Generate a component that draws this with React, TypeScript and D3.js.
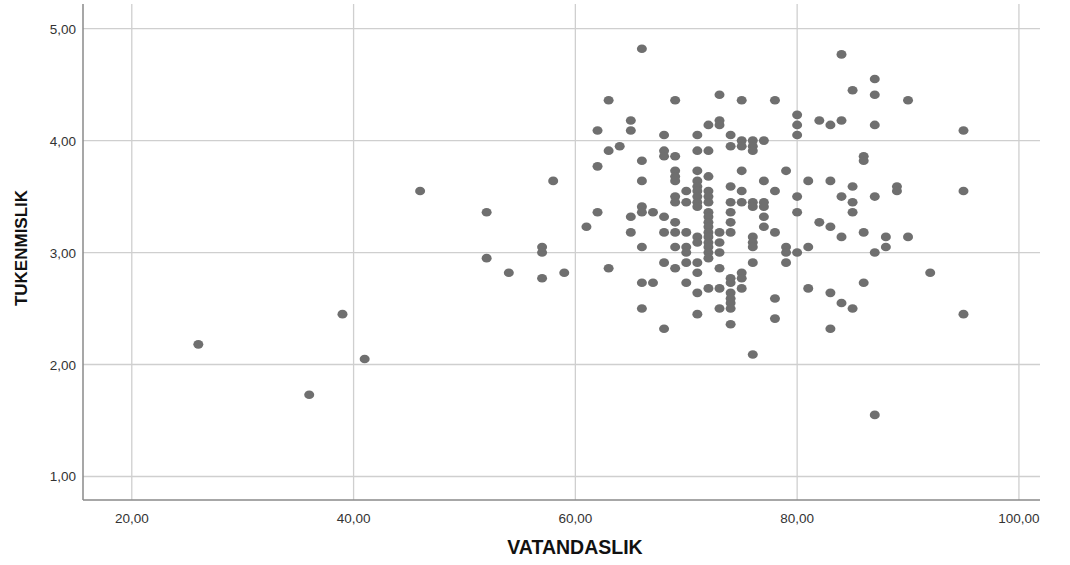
import React from "react";
import * as d3 from "d3";

// VATANDASLIK scores (x), one array per column of points
const vatandaslik = [
  26, 36, 39, 41, 46, 52, 52, 54, 57, 57, 57, 58, 59, 61,
  62, 62, 62, 63, 63, 63, 64, 65, 65, 65, 65,
  66, 66, 66, 66, 66, 66, 66, 66, 67, 67,
  68, 68, 68, 68, 68, 68, 68,
  69, 69, 69, 69, 69, 69, 69, 69, 69, 69, 69,
  70, 70, 70, 70, 70, 70, 70,
  71, 71, 71, 71, 71, 71, 71, 71, 71, 71, 71, 71, 71, 71, 71,
  72, 72, 72, 72, 72, 72, 72, 72, 72, 72, 72, 72, 72, 72, 72, 72, 72,
  73, 73, 73, 73, 73, 73, 73, 73, 73,
  74, 74, 74, 74, 74, 74, 74, 74, 74, 74, 74, 74, 74, 74,
  75, 75, 75, 75, 75, 75, 75, 75, 75,
  76, 76, 76, 76, 76, 76, 76, 76, 76, 76,
  77, 77, 77, 77, 77, 77,
  78, 78, 78, 78, 78,
  79, 79, 79, 79,
  80, 80, 80, 80, 80, 80,
  81, 81, 81, 82, 82,
  83, 83, 83, 83, 83,
  84, 84, 84, 84, 84,
  85, 85, 85, 85, 85,
  86, 86, 86, 86,
  87, 87, 87, 87, 87, 87,
  88, 88, 89, 89, 90, 90, 92, 95, 95, 95,
];

// TUKENMISLIK scores (y), same order
const tukenmislik = [
  2.18, 1.73, 2.45, 2.05, 3.55, 3.36, 2.95, 2.82, 3.05, 3.0, 2.77, 3.64, 2.82, 3.23,
  4.09, 3.77, 3.36, 4.36, 3.91, 2.86, 3.95, 4.18, 4.09, 3.32, 3.18,
  4.82, 3.82, 3.64, 3.41, 3.36, 3.05, 2.73, 2.5, 3.36, 2.73,
  4.05, 3.91, 3.86, 3.32, 3.18, 2.91, 2.32,
  4.36, 3.86, 3.73, 3.68, 3.64, 3.5, 3.45, 3.27, 3.18, 3.05, 2.86,
  3.55, 3.45, 3.18, 3.05, 3.0, 2.91, 2.73,
  4.05, 3.91, 3.73, 3.64, 3.59, 3.55, 3.5, 3.45, 3.41, 3.14, 3.09, 2.91, 2.82, 2.64, 2.45,
  4.14, 3.91, 3.68, 3.55, 3.5, 3.45, 3.36, 3.32, 3.27, 3.23, 3.18, 3.14, 3.09, 3.05, 3.0, 2.95, 2.68,
  4.41, 4.18, 4.14, 3.18, 3.09, 3.0, 2.86, 2.68, 2.5,
  4.05, 3.95, 3.59, 3.45, 3.36, 3.27, 3.18, 2.77, 2.73, 2.64, 2.59, 2.55, 2.5, 2.36,
  4.36, 4.0, 3.95, 3.73, 3.55, 3.45, 2.82, 2.77, 2.68,
  4.0, 3.95, 3.91, 3.45, 3.41, 3.14, 3.09, 3.05, 2.91, 2.09,
  4.0, 3.64, 3.45, 3.41, 3.32, 3.23,
  4.36, 3.55, 3.18, 2.59, 2.41,
  3.73, 3.05, 3.0, 2.91,
  4.23, 4.14, 4.05, 3.5, 3.36, 3.0,
  3.64, 3.05, 2.68, 4.18, 3.27,
  4.14, 3.64, 3.23, 2.64, 2.32,
  4.77, 4.18, 3.5, 3.14, 2.55,
  4.45, 3.59, 3.45, 3.36, 2.5,
  3.86, 3.82, 3.18, 2.73,
  4.55, 4.41, 4.14, 3.5, 3.0, 1.55,
  3.14, 3.05, 3.59, 3.55, 4.36, 3.14, 2.82, 4.09, 3.55, 2.45,
];

const xTicks = [20, 40, 60, 80, 100];
const yTicks = [1, 2, 3, 4, 5];

const W = 1070;
const H = 565;
const fmt = (v: number) => v.toFixed(2).replace(".", ",");

const App = () => {
  const x = d3.scaleLinear().domain([15.6, 101.9]).range([83, 1040]);
  const y = d3.scaleLinear().domain([0.79, 5.22]).range([500, 4]);
  const [x0, x1] = x.range();
  const [yb, yt] = y.range();

  const points = vatandaslik.map((v, i) => ({ v, t: tukenmislik[i] }));

  return (
    <svg
      width={W}
      height={H}
      style={{ position: "absolute", left: 0, top: 0, background: "#fff" }}
      fontFamily="'Liberation Sans', Arial, sans-serif"
    >
      {/* grid */}
      {xTicks.map((t) => (
        <line key={"gx" + t} x1={x(t)} x2={x(t)} y1={yb} y2={yt} stroke="#cfcfcf" strokeWidth={1.3} />
      ))}
      {yTicks.map((t) => (
        <line key={"gy" + t} x1={x0} x2={x1} y1={y(t)} y2={y(t)} stroke="#cfcfcf" strokeWidth={1.3} />
      ))}

      {/* axis lines */}
      <line x1={x0} x2={x0} y1={yt} y2={yb} stroke="#8a8a8a" strokeWidth={1.5} />
      <line x1={x0} x2={x1} y1={yb} y2={yb} stroke="#8a8a8a" strokeWidth={1.5} />

      {/* tick labels */}
      {xTicks.map((t) => (
        <text key={"tx" + t} x={x(t)} y={523} textAnchor="middle" fontSize={13.5} fill="#333">
          {fmt(t)}
        </text>
      ))}
      {yTicks.map((t) => (
        <text key={"ty" + t} x={76} y={y(t) + 5} textAnchor="end" fontSize={13.5} fill="#333">
          {fmt(t)}
        </text>
      ))}

      {/* axis titles */}
      <text x={575} y={554} textAnchor="middle" fontSize={19.5} fontWeight="bold" fill="#111">
        VATANDASLIK
      </text>
      <text
        transform="translate(27,248) rotate(-90)"
        textAnchor="middle"
        fontSize={17}
        fontWeight="bold"
        fill="#111"
      >
        TUKENMISLIK
      </text>

      {/* points */}
      {points.map((p, i) => (
        <ellipse key={i} cx={x(p.v)} cy={y(p.t)} rx={5} ry={4.3} fill="#6f6f6f" />
      ))}
    </svg>
  );
};

export default App;
